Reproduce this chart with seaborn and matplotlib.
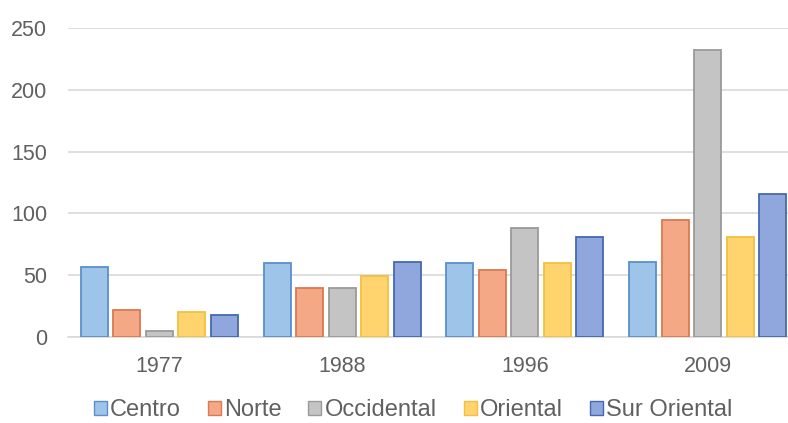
import matplotlib
matplotlib.use("Agg")
import matplotlib.pyplot as plt
import seaborn as sns
import pandas as pd
from matplotlib.patches import Patch

years = ["1977", "1988", "1996", "2009"]
regions = ["Centro", "Norte", "Occidental", "Oriental", "Sur Oriental"]
centro = [57, 60, 60, 61]
norte = [22, 40, 54, 95]
occidental = [5, 40, 88, 232]
oriental = [20, 49, 60, 81]
sur_oriental = [18, 61, 81, 116]
yticks = [0, 50, 100, 150, 200, 250]

series = [centro, norte, occidental, oriental, sur_oriental]
rows = []
for reg, vals in zip(regions, series):
    for yr, v in zip(years, vals):
        rows.append({"year": yr, "region": reg, "value": v})
df = pd.DataFrame(rows)

fills = ["#9fc4ea", "#f5a886", "#c4c4c4", "#ffd46e", "#8fa7dc"]
edges = ["#5b8fc9", "#d97a50", "#9a9a9a", "#f2c040", "#4468b0"]
text_color = "#606060"
grid_color = "#d9d9d9"

sns.set_theme(style="white")
plt.rcParams["font.family"] = ["Liberation Sans", "DejaVu Sans"]

fig = plt.figure(figsize=(7.88, 4.23), dpi=100)
ax = fig.add_axes([68 / 788, 1 - 337 / 423, 731 / 788, (337 - 28) / 423])

sns.barplot(data=df, x="year", y="value", hue="region", order=years,
            hue_order=regions, palette=fills, width=0.89, gap=0.17,
            linewidth=1.3, saturation=1, legend=False, ax=ax, zorder=3)

for cont, ec in zip(ax.containers, edges):
    for bar in cont:
        bar.set_edgecolor(ec)
        bar.set_linewidth(1.3)

ax.set_ylim(0, 250)
ax.set_xlim(-0.5, 3.5)
ax.set_yticks(yticks)
ax.set_yticklabels([str(t) for t in yticks])
ax.yaxis.grid(True, color=grid_color, linewidth=1.2, zorder=0)
ax.set_axisbelow(True)
for s in ["top", "right", "left"]:
    ax.spines[s].set_visible(False)
ax.spines["bottom"].set_color(grid_color)
ax.spines["bottom"].set_linewidth(1.2)
ax.tick_params(axis="y", length=0, pad=15, labelsize=15.5, labelcolor=text_color)
ax.tick_params(axis="x", length=0, pad=14, labelsize=15.5, labelcolor=text_color)
ax.set_xlabel("")
ax.set_ylabel("")

handles = [Patch(facecolor=f, edgecolor=e, linewidth=1.0) for f, e in zip(fills, edges)]
leg = fig.legend(handles, regions, loc="center", bbox_to_anchor=(413 / 788, 1 - 410 / 423),
                 ncol=5, frameon=False, fontsize=17, handlelength=0.55, handleheight=0.55,
                 handletextpad=0.13, columnspacing=1.15, borderaxespad=0, borderpad=0)
for t in leg.get_texts():
    t.set_color(text_color)

fig.savefig("out.png", dpi=100)
